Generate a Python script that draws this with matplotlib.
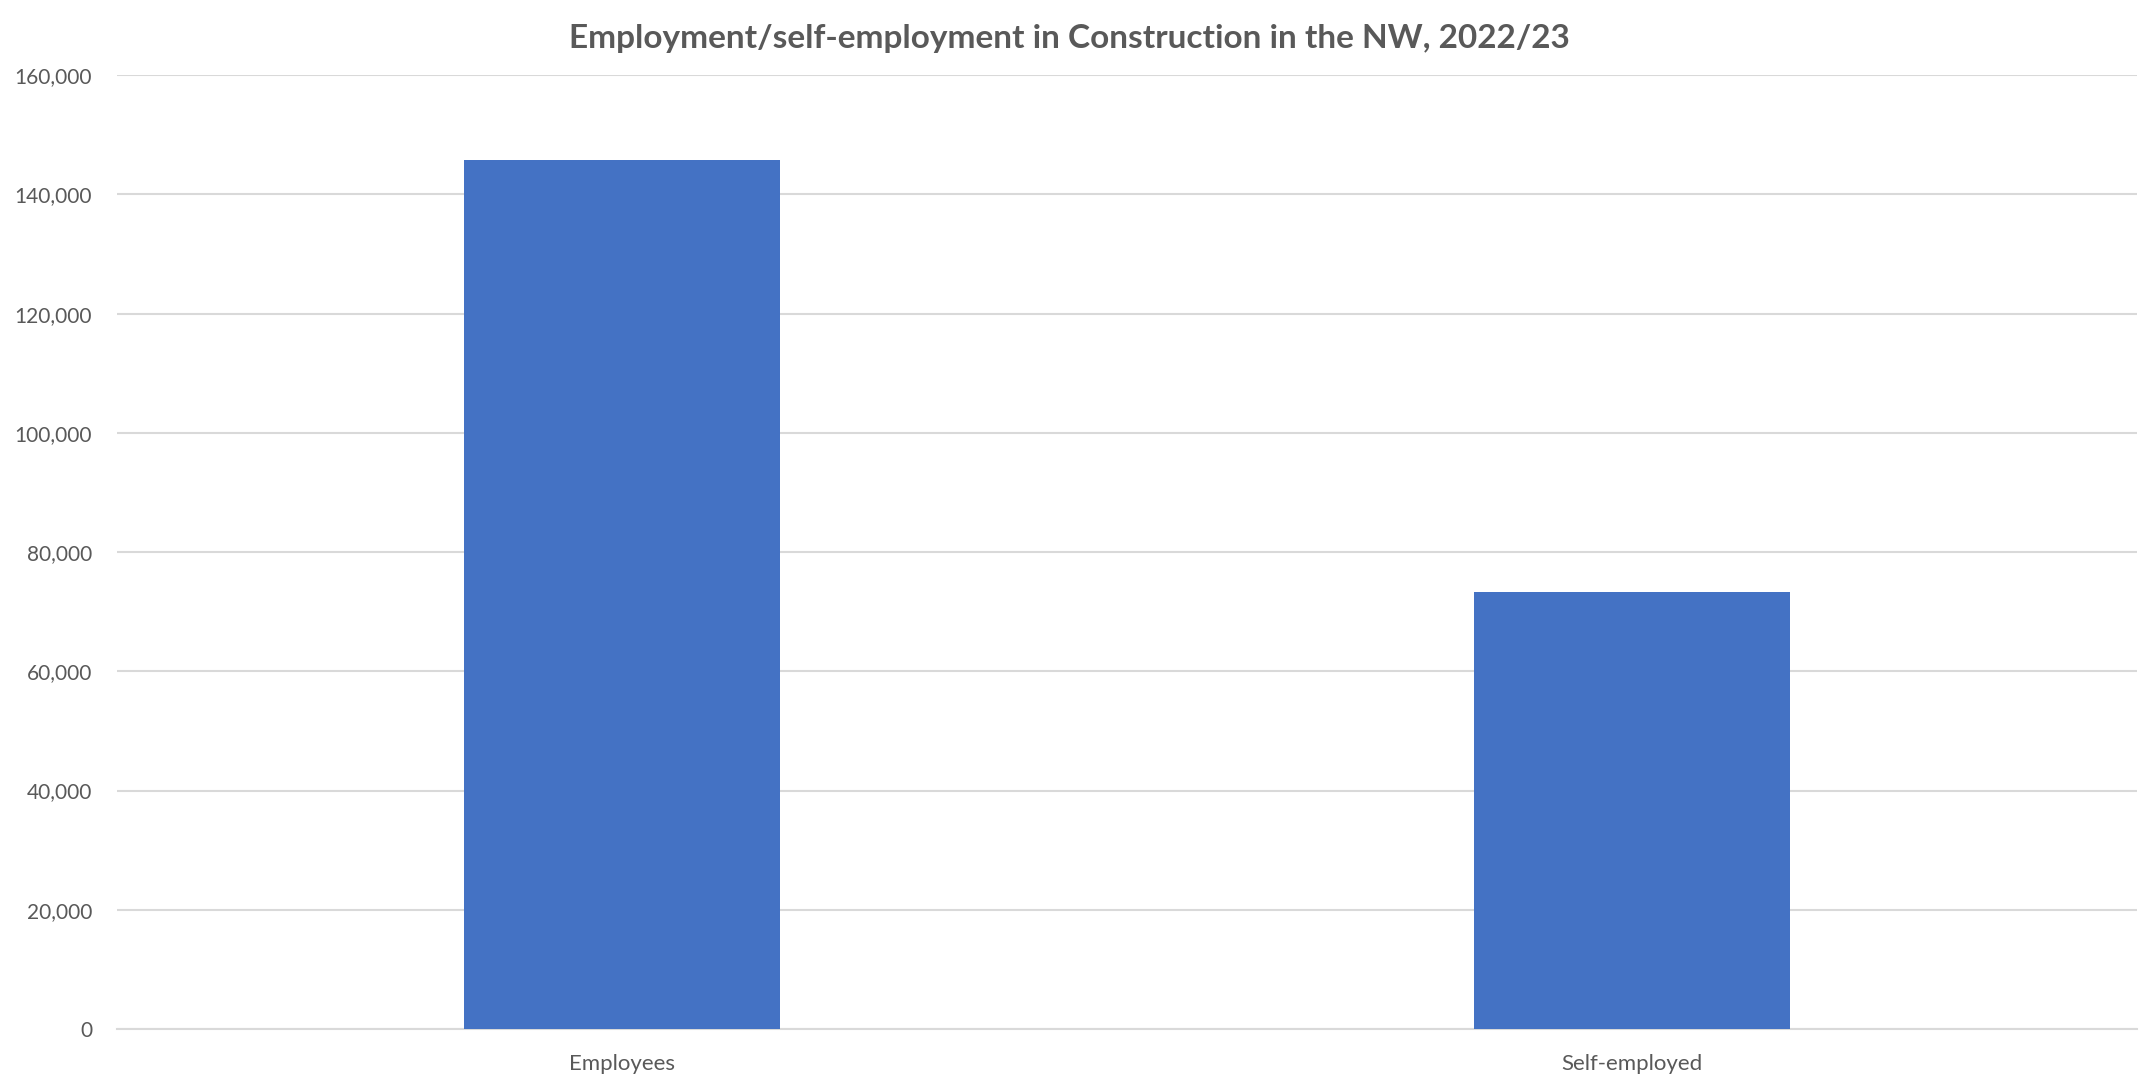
import matplotlib
matplotlib.use("Agg")
import matplotlib.pyplot as plt
from matplotlib.ticker import FuncFormatter

categories = ["Employees", "Self-employed"]
counts = [145700, 73300]
yticks = [0, 20000, 40000, 60000, 80000, 100000, 120000, 140000, 160000]

plt.rcParams['font.family'] = ['Lato', 'DejaVu Sans']
text_grey = '#595959'

fig = plt.figure(figsize=(21.39, 10.75), dpi=100)
ax = fig.add_axes([0.0547, 0.0428, 0.9443, 0.8872])

ax.bar(categories, counts, width=0.313, color='#4472C4', zorder=3)

ax.set_xlim(-0.5, 1.5)
ax.set_ylim(0, 160000)
ax.set_yticks(yticks)
ax.yaxis.set_major_formatter(FuncFormatter(lambda v, p: f"{int(v):,}"))
ax.grid(axis='y', color='#d9d9d9', linewidth=1.5, zorder=0)

for s in ['top', 'right', 'left']:
    ax.spines[s].set_visible(False)
ax.spines['bottom'].set_color('#d9d9d9')
ax.spines['bottom'].set_linewidth(1.5)

ax.tick_params(axis='both', length=0, colors=text_grey)
ax.tick_params(axis='y', pad=18, labelsize=15)
ax.tick_params(axis='x', pad=18, labelsize=16)

fig.suptitle("Employment/self-employment in Construction in the NW, 2022/23",
             fontsize=24, fontweight='bold', color=text_grey, y=0.978)

fig.savefig("out.png", dpi=100)
